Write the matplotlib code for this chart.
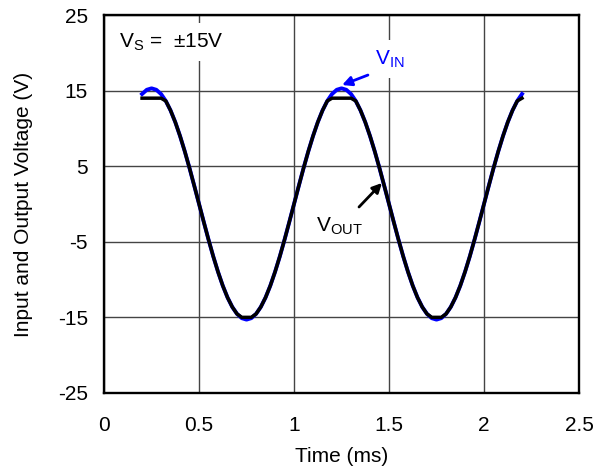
import matplotlib.pyplot as plt

plt.rcParams['font.family'] = ['Liberation Sans', 'DejaVu Sans']
plt.rcParams['mathtext.default'] = 'regular'

# time samples (ms)
time_ms = [0.200, 0.225, 0.250, 0.275, 0.300, 0.325, 0.350, 0.375, 0.400, 0.425,
           0.450, 0.475, 0.500, 0.525, 0.550, 0.575, 0.600, 0.625, 0.650, 0.675,
           0.700, 0.725, 0.750, 0.775, 0.800, 0.825, 0.850, 0.875, 0.900, 0.925,
           0.950, 0.975, 1.000, 1.025, 1.050, 1.075, 1.100, 1.125, 1.150, 1.175,
           1.200, 1.225, 1.250, 1.275, 1.300, 1.325, 1.350, 1.375, 1.400, 1.425,
           1.450, 1.475, 1.500, 1.525, 1.550, 1.575, 1.600, 1.625, 1.650, 1.675,
           1.700, 1.725, 1.750, 1.775, 1.800, 1.825, 1.850, 1.875, 1.900, 1.925,
           1.950, 1.975, 2.000, 2.025, 2.050, 2.075, 2.100, 2.125, 2.150, 2.175,
           2.200]

# input voltage (V)
v_in = [14.55, 15.11, 15.3, 15.11, 14.55, 13.63, 12.38, 10.82, 8.99, 6.95,
        4.73, 2.39, 0.0, -2.39, -4.73, -6.95, -8.99, -10.82, -12.38, -13.63,
        -14.55, -15.11, -15.3, -15.11, -14.55, -13.63, -12.38, -10.82, -8.99, -6.95,
        -4.73, -2.39, 0.0, 2.39, 4.73, 6.95, 8.99, 10.82, 12.38, 13.63,
        14.55, 15.11, 15.3, 15.11, 14.55, 13.63, 12.38, 10.82, 8.99, 6.95,
        4.73, 2.39, 0.0, -2.39, -4.73, -6.95, -8.99, -10.82, -12.38, -13.63,
        -14.55, -15.11, -15.3, -15.11, -14.55, -13.63, -12.38, -10.82, -8.99, -6.95,
        -4.73, -2.39, 0.0, 2.39, 4.73, 6.95, 8.99, 10.82, 12.38, 13.63,
        14.55]

# output voltage (V), clipped near the rails
v_out = [14.0, 14.0, 14.0, 14.0, 14.0, 13.63, 12.38, 10.82, 8.99, 6.95,
         4.73, 2.39, 0.0, -2.39, -4.73, -6.95, -8.99, -10.82, -12.38, -13.63,
         -14.55, -15.0, -15.0, -15.0, -14.55, -13.63, -12.38, -10.82, -8.99, -6.95,
         -4.73, -2.39, 0.0, 2.39, 4.73, 6.95, 8.99, 10.82, 12.38, 13.63,
         14.0, 14.0, 14.0, 14.0, 14.0, 13.63, 12.38, 10.82, 8.99, 6.95,
         4.73, 2.39, 0.0, -2.39, -4.73, -6.95, -8.99, -10.82, -12.38, -13.63,
         -14.55, -15.0, -15.0, -15.0, -14.55, -13.63, -12.38, -10.82, -8.99, -6.95,
         -4.73, -2.39, 0.0, 2.39, 4.73, 6.95, 8.99, 10.82, 12.38, 13.63,
         14.0]

x_ticks = [0, 0.5, 1, 1.5, 2, 2.5]
y_ticks = [-25, -15, -5, 5, 15, 25]

fig = plt.figure(figsize=(6.05, 4.70), dpi=100)
ax = fig.add_axes([0.172, 0.164, 0.785, 0.804])

ax.plot(time_ms, v_in, color='#0000ff', linewidth=2.8, zorder=3)
ax.plot(time_ms, v_out, color='black', linewidth=2.5, zorder=4)

ax.set_xlim(0, 2.5)
ax.set_ylim(-25, 25)
ax.set_xticks(x_ticks)
ax.set_xticklabels(['0', '0.5', '1', '1.5', '2', '2.5'])
ax.set_yticks(y_ticks)
ax.set_yticklabels([str(v) for v in y_ticks])
ax.tick_params(axis='both', length=0, labelsize=15)
ax.tick_params(axis='x', pad=16.5)
ax.tick_params(axis='y', pad=11.5)
ax.grid(True, color='#444444', linewidth=1.0)
ax.set_axisbelow(True)
for sp in ax.spines.values():
    sp.set_linewidth(1.7)

ax.set_xlabel('Time (ms)', fontsize=15)
ax.set_ylabel('Input and Output Voltage (V)', fontsize=15)
ax.xaxis.set_label_coords(0.5, -0.143)
ax.yaxis.set_label_coords(-0.149, 0.5)

box = dict(facecolor='white', edgecolor='none', pad=6)
ax.text(0.079, 21.4, r'V$_{S}$ =  ±15V', fontsize=15, va='center', ha='left',
        bbox=box, zorder=5)

ax.text(1.426, 19.2, r'V$_{IN}$', fontsize=15, color='#0000ff', va='center',
        ha='left', bbox=box, zorder=5)
ax.annotate('', xy=(1.253, 15.74), xytext=(1.389, 17.06),
            arrowprops=dict(arrowstyle='-|>', color='#0000ff', lw=2,
                            mutation_scale=14, shrinkA=0, shrinkB=0), zorder=6)

ax.text(1.116, -2.9, r'V$_{OUT}$    ', fontsize=15, color='black', va='center',
        ha='left', bbox=dict(facecolor='white', edgecolor='none', pad=4), zorder=5)
ax.annotate('', xy=(1.463, 2.78), xytext=(1.342, -0.4),
            arrowprops=dict(arrowstyle='-|>', color='black', lw=2,
                            mutation_scale=14, shrinkA=0, shrinkB=0), zorder=6)

fig.savefig('out.png', dpi=100)
